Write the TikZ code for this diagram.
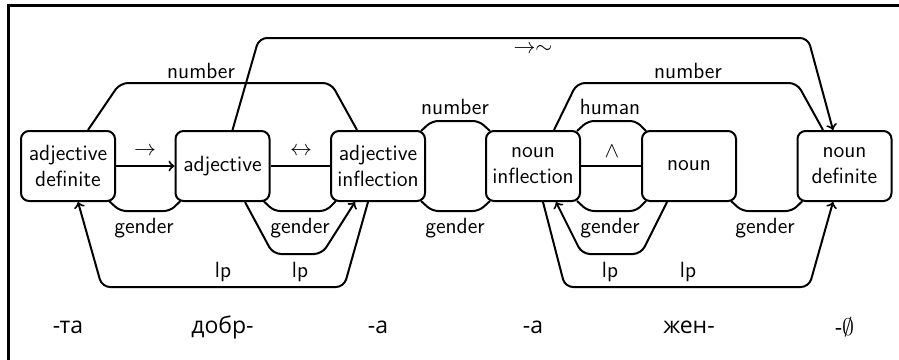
\documentclass[tikz,border=0pt]{standalone}
\usepackage{fontspec}
\newfontfamily\cyr{Open Sans}
\usetikzlibrary{calc}
\begin{document}
\begin{tikzpicture}[x=0.5pt,y=-0.5pt,
  font=\sffamily\fontsize{11}{13}\selectfont,
  box/.style={draw, line width=1pt, rounded corners=4pt, minimum width=47pt,
    minimum height=35pt, inner sep=1pt, align=center},
  link/.style={draw, line width=1pt, rounded corners=4pt},
  tight/.style={link, rounded corners=3pt},
  arrowlink/.style={link, ->},
  lbl/.style={inner sep=0pt},
  morph/.style={inner sep=0pt, font=\cyr\fontsize{11.5}{13}\selectfont}]
\useasboundingbox (0,0) rectangle (899,359);
% frame
\draw[line width=1.5pt] (8.5,370) -- (8.5,5.8) -- (910,5.8);

% boxes
\node[box] (ad) at (68,166)    {adjective\\definite};
\node[box] (a)  at (222.5,166) {adjective};
\node[box] (ai) at (378,166)   {adjective\\inflection};
\node[box] (ni) at (533,166)   {noun\\inflection};
\node[box] (n)  at (689,166)   {noun};
\node[box] (nd) at (844.5,166) {noun\\definite};

% straight links
\draw[arrowlink] (ad) -- (a);
\node[lbl] at (145,151) {$\rightarrow$};
\draw[link] (a) -- (ai);
\node[lbl] at (301,151) {$\leftrightarrow$};
\draw[link] (ni) -- (n);
\node[lbl] at (612,151) {$\wedge$};

% upper arcs
\draw[link] ($(ad.north)+(20,0)$) -- (120,83) -- (331,83) -- ($(ai.north)+(-21,0)$);
\node[lbl] at (201,71) {number};
\draw[arrowlink] ($(a.north)+(10,0)$) -- (259,38) -- (808,38) -- ($(nd.north)+(-11.5,0)$);
\node[lbl] at (533,49) {$\rightarrow\sim$};
\draw[link] ($(ni.north)+(21,0)$) -- (577,83) -- (797,83) -- ($(nd.north)+(-21.5,0)$);
\node[lbl] at (688,71) {number};
\draw[tight] ($(ai.north east)+(-5,1)$) -- (432,121) -- (479,121) -- ($(ni.north west)+(5,1)$);
\node[lbl] at (455,107) {number};
\draw[tight] ($(ni.north east)+(-4,1)$) -- (588,121) -- (636,121) -- ($(n.north west)+(5,1)$);
\node[lbl] at (610,107) {human};

% lower gender arcs
\draw[tight] ($(ad.south east)+(-7,-1)$) -- (120,211) -- (170,211) -- ($(a.south west)+(6,-1)$);
\node[lbl] at (144,228) {gender};
\draw[tight] ($(a.south east)+(-7,-1)$) -- (274,211) -- (326,211) -- ($(ai.south west)+(6,-1)$);
\node[lbl] at (300,228) {gender};
\draw[tight] ($(ai.south east)+(-5,-1)$) -- (432,211) -- (479,211) -- ($(ni.south west)+(5,-1)$);
\node[lbl] at (455,228) {gender};
\draw[tight] ($(ni.south east)+(-4,-1)$) -- (588,211) -- (636,211) -- ($(n.south west)+(5,-1)$);
\node[lbl] at (610,228) {gender};
\draw[tight] ($(n.south east)+(-6,-1)$) -- (742,211) -- (792,211) -- ($(nd.south west)+(6,-1)$);
\node[lbl] at (765,228) {gender};

% lp arcs
\draw[arrowlink] ($(a.south)+(22.5,0)$) -- (273,254) -- (322,254) -- ($(ai.south)+(-23,0)$);
\node[lbl] at (300,272) {lp};
\draw[arrowlink] ($(ai.south)+(-10,0)$) -- (344,287) -- (102,287) -- ($(ad.south)+(10,0)$);
\node[lbl] at (223,272) {lp};
\draw[arrowlink] ($(n.south)+(-22,0)$) -- (641,254) -- (582,254) -- ($(ni.south)+(23,0)$);
\node[lbl] at (610,272) {lp};
\draw[arrowlink] ($(ni.south)+(10,0)$) -- (565,287) -- (809,287) -- ($(nd.south)+(-11.5,0)$);
\node[lbl] at (688,272) {lp};

% word forms
\node[morph] (m1) at (68,327)    {-та};
\node[morph] (m2) at (222.5,327) {добр-};
\node[morph] (m3) at (378,327)   {-а};
\node[morph] (m4) at (533,327)   {-а};
\node[morph] (m5) at (689,327)   {жен-};
\node[morph] (m6) at (844.5,327) {-$\emptyset$};
\end{tikzpicture}
\end{document}
